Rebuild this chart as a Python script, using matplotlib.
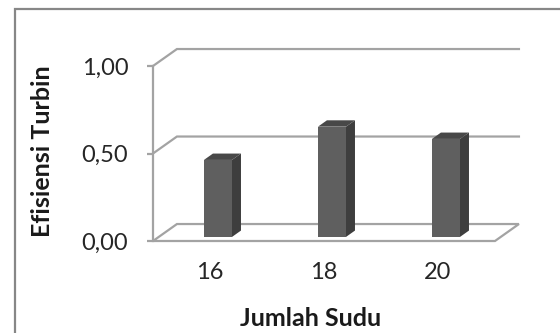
import matplotlib
matplotlib.use("Agg")
import matplotlib.pyplot as plt
from matplotlib.patches import Polygon, Rectangle

# Chart data
categories = ["16", "18", "20"]
efficiency = [0.44, 0.63, 0.56]
y_ticks = [0.0, 0.5, 1.0]
y_tick_labels = ["0,00", "0,50", "1,00"]
x_label = "Jumlah Sudu"
y_label = "Efisiensi Turbin"

FONT = "Lato"
GRID = "#a3a3a3"
FRONT = "#5f5f5f"
SIDE = "#3e3e3e"
TOP = "#484848"

W, H = 560, 333
fig = plt.figure(figsize=(W / 100, H / 100), dpi=100)
fig.patch.set_facecolor("white")

# chart border
fig.patches.append(Rectangle((15 / W, -0.2), 1.2, 1 - 9 / H + 0.2,
                             transform=fig.transFigure, fill=False,
                             edgecolor="#878787", linewidth=1.6))

# front plane of the 3D box
ax = fig.add_axes([153 / W, (H - 241) / H, 342 / W, 175 / H])
ax.set_xlim(0, len(categories))
ax.set_ylim(0, 1)
ax.patch.set_visible(False)

# oblique depth offset (data units)
DX, DY = 0.21, 0.097

# walls: gridlines on the back wall plus the left side wall diagonal
for y in y_ticks:
    if y == 0:
        floor = Polygon([(0, 0), (DX, DY), (len(categories) + DX, DY),
                         (len(categories), 0)], closed=True, fill=False,
                        edgecolor=GRID, linewidth=1.6, clip_on=False, zorder=1)
        ax.add_patch(floor)
    else:
        ax.plot([0, DX, len(categories) + DX], [y, y + DY, y + DY],
                color=GRID, linewidth=1.6, clip_on=False, zorder=1,
                solid_joinstyle="miter")

# 3D columns
F0, T = 0.24, 0.375       # depth start and thickness (fraction of depth)
BW, SHIFT = 0.246, 0.07   # bar width, horizontal centre shift
ox, oy = F0 * DX, F0 * DY
tx, ty = T * DX, T * DY
for i, v in enumerate(efficiency):
    x0 = i + 0.5 + SHIFT - BW / 2
    x1 = x0 + BW
    b, t = oy, oy + v
    front = Polygon([(x0, b), (x1, b), (x1, t), (x0, t)], closed=True,
                    facecolor=FRONT, edgecolor="none", clip_on=False, zorder=3)
    side = Polygon([(x1, b), (x1 + tx, b + ty), (x1 + tx, t + ty), (x1, t)],
                   closed=True, facecolor=SIDE, edgecolor="none",
                   clip_on=False, zorder=3)
    top = Polygon([(x0, t), (x1, t), (x1 + tx, t + ty), (x0 + tx, t + ty)],
                  closed=True, facecolor=TOP, edgecolor="none",
                  clip_on=False, zorder=3)
    for p in (side, top, front):
        ax.add_patch(p)

# axes and ticks
for s in ("top", "right", "bottom"):
    ax.spines[s].set_visible(False)
ax.spines["left"].set_color(GRID)
ax.spines["left"].set_linewidth(1.6)
ax.spines["left"].set_zorder(2)

ax.set_xticks([i + 0.5 for i in range(len(categories))])
ax.set_xticklabels(categories, fontfamily=FONT, fontsize=17, color="#262626")
ax.tick_params(axis="x", length=0, pad=15)
ax.set_yticks(y_ticks)
ax.set_yticklabels(y_tick_labels, fontfamily=FONT, fontsize=17, color="#262626")
ax.tick_params(axis="y", length=4.3, width=1.6, color=GRID, pad=13.5)

fig.text(43 / W, 1 - 151 / H, y_label, rotation=90, ha="center", va="center",
         fontfamily=FONT, fontweight="bold", fontsize=18, color="#1a1a1a")
fig.text(311 / W, 1 - 318 / H, x_label, ha="center", va="center",
         fontfamily=FONT, fontweight="bold", fontsize=18, color="#1a1a1a")

fig.savefig("out.png", dpi=100, facecolor="white")
